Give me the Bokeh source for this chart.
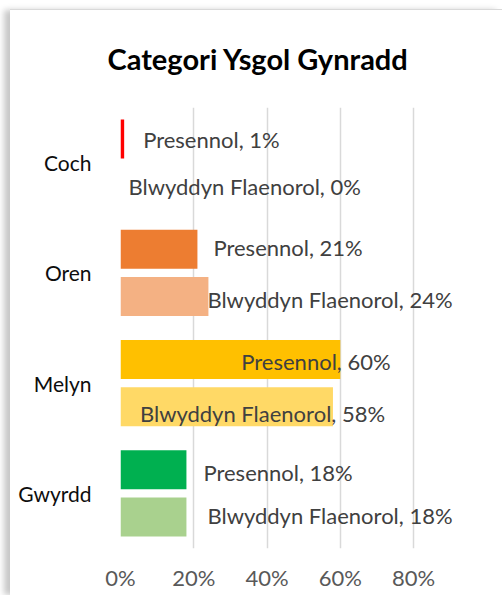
from bokeh.plotting import figure
from bokeh.models import (ColumnDataSource, FactorRange, FixedTicker,
                          NumeralTickFormatter)
from bokeh.transform import dodge
from bokeh.core.properties import value
from bokeh.embed import file_html
from bokeh.resources import INLINE

# ---- data ----
categories = ["Coch", "Oren", "Melyn", "Gwyrdd"]
presennol = [0.01, 0.21, 0.60, 0.18]
blwyddyn_flaenorol = [0.00, 0.24, 0.58, 0.18]
series_names = ["Presennol", "Blwyddyn Flaenorol"]
x_ticks = [0, 0.2, 0.4, 0.6, 0.8]
title_text = "Categori Ysgol Gynradd"

# ---- styles ----
colors_p = ["#FF0000", "#ED7D31", "#FFC000", "#00B050"]
colors_b = ["#FF0000", "#F4B183", "#FFD966", "#A9D18E"]
# label nudges in screen px (relative to bar end / bar centre)
xoff_p = [19, 16, -99, 17]
xoff_b = [8, -1, -193, 21]
yoff_p = [0, -2, 1.5, 2.5]
yoff_b = [0, 3.5, 6.5, -1]

FONT = "Lato"

p = figure(width=492, height=585, output_backend="svg", toolbar_location=None,
           y_range=FactorRange(factors=list(reversed(categories))),
           x_range=(0, 0.95),
           min_border_left=110, min_border_right=34,
           min_border_top=97, min_border_bottom=47)
p.margin = (10, 0, 0, 10)
p.styles = {"box-shadow": "0 -1px 0 #d9d9d9, -6px 0 6px rgba(0,0,0,0.22)"}
p.outline_line_color = None
p.background_fill_color = "white"
p.border_fill_color = "white"

p.title.text = title_text
p.title.align = "left"
p.title.vertical_align = "top"
p.title.offset = -13
p.title.standoff = 60
p.title.text_font = FONT
p.title.text_font_style = "bold"
p.title.text_font_size = "29px"
p.title.text_color = "black"

src_p = ColumnDataSource(dict(cat=categories, v=presennol, color=colors_p,
                              label=[f"{series_names[0]}, {round(v*100)}%" for v in presennol],
                              xo=xoff_p, yo=yoff_p))
src_b = ColumnDataSource(dict(cat=categories, v=blwyddyn_flaenorol, color=colors_b,
                              label=[f"{series_names[1]}, {round(v*100)}%" for v in blwyddyn_flaenorol],
                              xo=xoff_b, yo=yoff_b))

bar_h = 0.354
off = 0.2135
p.hbar(y=dodge("cat", off, range=p.y_range), right="v", left=0, height=bar_h,
       fill_color="color", line_color=None, source=src_p)
p.hbar(y=dodge("cat", -off, range=p.y_range), right="v", left=0, height=bar_h,
       fill_color="color", line_color=None, source=src_b)

for src, o in ((src_p, off), (src_b, -off)):
    p.text(x="v", y=dodge("cat", o, range=p.y_range), text="label",
           x_offset="xo", y_offset="yo", text_align="left", text_baseline="middle",
           text_font=value(FONT), text_font_size="22px", text_color="#404040",
           source=src)

# axes
p.xaxis.ticker = FixedTicker(ticks=x_ticks)
p.xaxis.formatter = NumeralTickFormatter(format="0%")
p.xaxis.axis_line_color = None
p.xaxis.major_tick_line_color = None
p.xaxis.minor_tick_line_color = None
p.xaxis.major_label_text_font = FONT
p.xaxis.major_label_text_font_size = "22px"
p.xaxis.major_label_text_color = "#595959"
p.xaxis.major_label_standoff = 9

p.yaxis.axis_line_color = None
p.yaxis.major_tick_line_color = None
p.yaxis.minor_tick_line_color = None
p.yaxis.major_label_text_font = FONT
p.yaxis.major_label_text_font_size = "21px"
p.yaxis.major_label_text_color = "#0d0d0d"
p.yaxis.major_label_standoff = 23

p.xgrid.ticker = FixedTicker(ticks=x_ticks)
p.xgrid.grid_line_color = "#D9D9D9"
p.xgrid.grid_line_width = 1.5
p.ygrid.grid_line_color = None

open("out.html", "w").write(file_html(p, INLINE))
